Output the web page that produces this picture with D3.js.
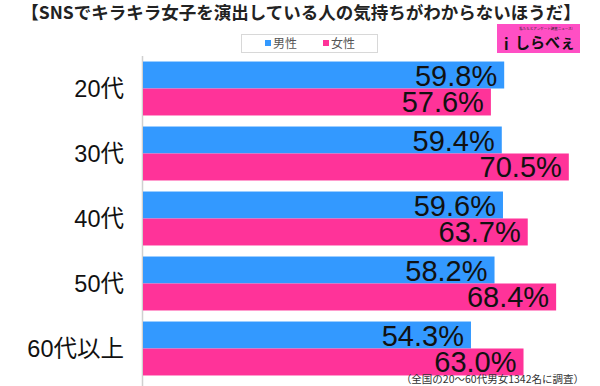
<!DOCTYPE html>
<html>
<head>
<meta charset="utf-8">
<script src="https://cdn.jsdelivr.net/npm/d3@7"></script>
<style>
  body { margin: 0; background: #fff; }
  svg { display: block; }
</style>
</head>
<body>
<script>
var categories = ["20代", "30代", "40代", "50代", "60代以上"];
var seriesNames = ["男性", "女性"];
var maleValues = [59.8, 59.4, 59.6, 58.2, 54.3];
var femaleValues = [57.6, 70.5, 63.7, 68.4, 63.0];
var colors = ["#3399ff", "#ff3399"];

var w = 600;
var h = 386;
var font = "'Liberation Sans', 'Noto Sans CJK JP', sans-serif";

var svg = d3.select("body").append("svg")
    .attr("width", w)
    .attr("height", h);

var rows = categories.map(function(c, i) {
    return { cat: c, values: [maleValues[i], femaleValues[i]] };
});

var x = d3.scaleLinear().domain([0, 75]).range([143, 596]);
var y = d3.scaleBand().domain(categories).range([56, 381])
    .paddingInner(0.17).paddingOuter(0.085);
var ySub = d3.scaleBand().domain(seriesNames).range([0, y.bandwidth()]);

// title
svg.append("text")
    .text("【SNSでキラキラ女子を演出している人の気持ちがわからないほうだ】")
    .attr("x", 301)
    .attr("y", 19)
    .attr("text-anchor", "middle")
    .attr("font-family", "'Noto Sans CJK JP', sans-serif")
    .attr("font-weight", "bold")
    .attr("font-size", 17.5)
    .attr("fill", "#222");

// legend
var legend = svg.append("g");
legend.append("rect")
    .attr("x", 241.5).attr("y", 34.5)
    .attr("width", 136).attr("height", 18)
    .attr("fill", "#fff").attr("stroke", "#d8d8d8");
seriesNames.forEach(function(s, i) {
    var lx = 265 + i * 58;
    legend.append("rect")
        .attr("x", lx).attr("y", 40)
        .attr("width", 6).attr("height", 6)
        .attr("fill", colors[i]);
    legend.append("text")
        .text(s)
        .attr("x", lx + 8).attr("y", 48)
        .attr("font-family", "'Noto Sans CJK JP', sans-serif")
        .attr("font-size", 12)
        .attr("fill", "#555");
});

// logo
var logo = svg.append("g");
logo.append("rect")
    .attr("x", 497).attr("y", 24)
    .attr("width", 83).attr("height", 29)
    .attr("fill", "#ff4fc4");
logo.append("text")
    .text("私たちとアンケート調査ニュース!")
    .attr("x", 546).attr("y", 30)
    .attr("text-anchor", "middle")
    .attr("font-family", "'Noto Sans CJK JP', sans-serif")
    .attr("font-size", 3.5)
    .attr("fill", "#222");
logo.append("text")
    .text("i")
    .attr("x", 504).attr("y", 50)
    .attr("font-family", "'Noto Sans CJK JP', sans-serif")
    .attr("font-weight", "bold")
    .attr("font-size", 15)
    .attr("fill", "#111");
logo.append("text")
    .text("しらべぇ")
    .attr("x", 515).attr("y", 48)
    .attr("font-family", "'Noto Sans CJK JP', sans-serif")
    .attr("font-weight", "bold")
    .attr("font-size", 15)
    .attr("fill", "#111");

// axis line
svg.append("line")
    .attr("x1", x(0) - 0.5).attr("x2", x(0) - 0.5)
    .attr("y1", 56).attr("y2", h)
    .attr("stroke", "#d0d0d0")
    .attr("stroke-width", 1.5);

var groups = svg.selectAll("g.row")
    .data(rows)
    .enter()
    .append("g")
    .attr("class", "row")
    .attr("transform", function(d) { return "translate(0," + y(d.cat) + ")"; });

groups.selectAll("rect")
    .data(function(d) { return d.values; })
    .enter()
    .append("rect")
    .attr("x", x(0))
    .attr("y", function(d, i) { return ySub(seriesNames[i]); })
    .attr("width", function(d) { return x(d) - x(0); })
    .attr("height", ySub.bandwidth())
    .attr("fill", function(d, i) { return colors[i]; });

groups.selectAll("text.val")
    .data(function(d) { return d.values; })
    .enter()
    .append("text")
    .attr("class", "val")
    .text(function(d) { return d.toFixed(1) + "%"; })
    .attr("x", function(d) { return x(d) - 7; })
    .attr("y", function(d, i) { return ySub(seriesNames[i]) + ySub.bandwidth() - 3; })
    .attr("text-anchor", "end")
    .attr("font-family", font)
    .attr("font-size", 29)
    .attr("fill", "#111");

// category labels
groups.append("text")
    .text(function(d) { return d.cat; })
    .attr("x", 124)
    .attr("y", y.bandwidth() / 2 + 8.5)
    .attr("text-anchor", "end")
    .attr("font-family", font)
    .attr("font-size", 23.5)
    .attr("fill", "#111");

// footnote
svg.append("text")
    .text("（全国の20〜60代男女1342名に調査）")
    .attr("x", 584)
    .attr("y", 383)
    .attr("text-anchor", "end")
    .attr("font-family", "'Noto Sans CJK JP', sans-serif")
    .attr("font-size", 10.5)
    .attr("fill", "#333");
</script>
</body>
</html>
